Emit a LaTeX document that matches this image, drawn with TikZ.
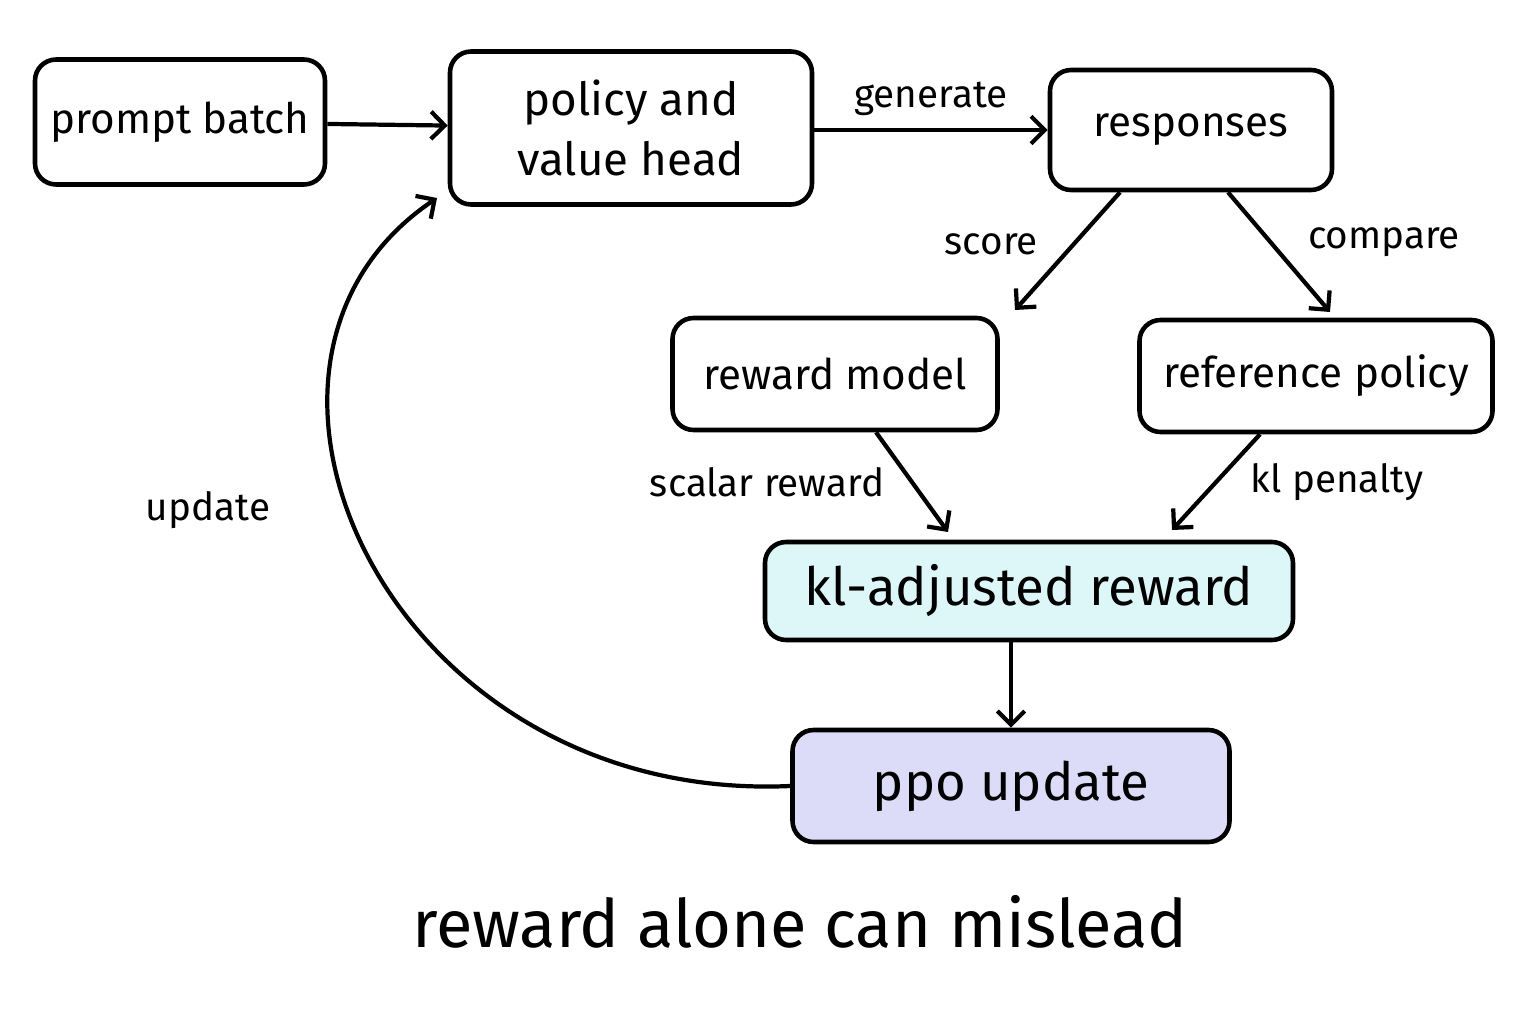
\documentclass[tikz,border=0pt]{standalone}
\usepackage{fontspec}
\setmainfont{Fira Sans}
\usetikzlibrary{arrows.meta}
\tikzset{>=Straight Barb,
  box/.style={draw, line width=1.3pt, rounded corners=6pt, align=center, inner sep=0pt, font=\fontsize{12}{16}\selectfont},
  lbl/.style={font=\fontsize{11}{13}\selectfont},
  arr/.style={->, line width=1.2pt}}
\definecolor{klfill}{HTML}{DDF6F8}
\definecolor{ppofill}{HTML}{DCDCF8}

\begin{document}
\begin{tikzpicture}
    \useasboundingbox (0,0) rectangle (15.36,10.24);
    \node[box, minimum width=2.9cm, minimum height=1.25cm] (prompt) at (1.80,9.02) {prompt batch};
    \node[box, minimum width=3.62cm, minimum height=1.53cm, font=\fontsize{13}{17}\selectfont] (policy) at (6.31,8.96) {policy and\\value head};
    \node[box, minimum width=2.82cm, minimum height=1.2cm] (resp) at (11.91,8.94) {responses};
    \node[box, minimum width=3.25cm, minimum height=1.12cm] (rm) at (8.35,6.50) {reward model};
    \node[box, minimum width=3.53cm, minimum height=1.12cm] (ref) at (13.16,6.48) {reference policy};
    \node[box, fill=klfill, minimum width=5.28cm, minimum height=0.98cm, font=\fontsize{15}{18}\selectfont] (kl) at (10.29,4.33) {kl-adjusted reward};
    \node[box, fill=ppofill, minimum width=4.37cm, minimum height=1.12cm, font=\fontsize{15}{18}\selectfont] (ppo) at (10.11,2.38) {ppo update};
    \node[font=\fontsize{19}{23}\selectfont] (caption) at (8.00,1.02) {reward alone can mislead};

    \draw[arr] (prompt) -- (policy);
    \draw[arr] (policy.east |- resp) -- node[lbl, above] {generate} (resp);
    \draw[arr] (resp.south -| 11.20,0) -- (10.15,7.14) node[lbl, pos=0.65, above left] {score};
    \draw[arr] (resp.south -| 12.28,0) -- (13.30,7.12) node[lbl, pos=0.65, above right] {compare};
    \draw[arr] (rm.south -| 8.76,0) -- (9.48,4.92) node[lbl, midway, left=4pt] {scalar reward};
    \draw[arr] (ref.south -| 12.60,0) -- (11.72,4.94) node[lbl, midway, right=6pt] {kl penalty};
    \draw[arr] (kl.south -| ppo.north) -- (ppo.north);
    \coordinate (back) at (4.37,8.26);
    \draw[arr] (ppo.west) .. controls (3.9,2.2) and (1.9,6.6) .. (back);
    \node[lbl] (upd) at (2.08,5.14) {update};
\end{tikzpicture}
\end{document}
